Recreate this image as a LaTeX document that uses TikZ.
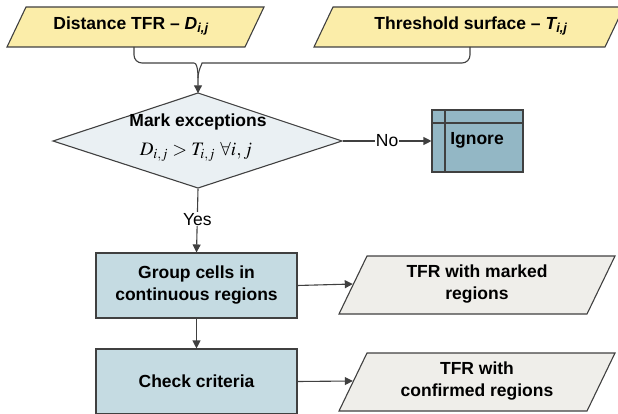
\documentclass[tikz,border=0pt]{standalone}
\usepackage{mathptmx}
\usepackage{fontspec}
\setmainfont{Liberation Sans}
\usetikzlibrary{arrows.meta}
\definecolor{lc}{HTML}{404040}
\definecolor{yel}{HTML}{FBEDA9}
\definecolor{dia}{HTML}{EAF0F3}
\definecolor{boxc}{HTML}{C5DBE2}
\definecolor{ign}{HTML}{93B7C5}
\definecolor{outc}{HTML}{EFEEEA}
\tikzset{
  shp/.style={draw=lc, line width=1.1pt, line join=miter},
  txt/.style={inner sep=0pt, font=\fontsize{17.5}{22}\selectfont\bfseries, align=center},
  proc/.style={shp, fill=boxc, minimum width=201pt, minimum height=65pt, inner sep=0pt, font=\fontsize{17.5}{22}\selectfont\bfseries, align=center},
  conn/.style={draw=lc, line width=1.1pt, -{Triangle[length=8pt,width=8pt]}},
  lbl/.style={fill=white, inner sep=1pt, font=\fontsize{17.5}{20}\selectfont}
}
\begin{document}
\begin{tikzpicture}[x=1pt,y=-1pt]
\useasboundingbox (0,0) rectangle (618,414);
% input parallelograms
\draw[shp, fill=yel] (26,7) -- (264,7) -- (245,47) -- (7,47) -- cycle;
\draw[shp, fill=yel] (333,7) -- (624,7) -- (605,47) -- (314,47) -- cycle;
\node[txt] (d) at (131,26) {Distance TFR -- \textit{D\textsubscript{i,j}}};
\node[txt] (t) at (471,26) {Threshold surface -- \textit{T\textsubscript{i,j}}};
\coordinate (db) at (134,47);
\coordinate (tb) at (470,47);
% diamond
\draw[shp, fill=dia] (198,93) -- (342,141) -- (198,188) -- (53,141) -- cycle;
\node[inner sep=0pt, minimum width=289pt, minimum height=95pt] (m) at (198,141) {};
\node[txt] (mt) at (198,122) {Mark exceptions};
\node[inner sep=0pt, font=\fontsize{19}{21}\selectfont] (mf) at (196,152) {$D_{i,j} >T_{i,j}\ \forall i, j$};
% merge connector
\draw[conn, rounded corners=8pt] (db) -- (134,63) -- (186,63) to[out=0,in=90] (m.north);
\draw[draw=lc, line width=1.1pt, rounded corners=8pt] (tb) -- (470,63) -- (210,63) to[out=180,in=90] (198,78);
% ignore box
\node[shp, fill=ign, minimum width=91pt, minimum height=62pt, inner sep=0pt] (ig) at (477.5,141) {};
\draw[draw=lc, line width=1.1pt] (445,110) -- (445,172);
\draw[draw=lc, line width=1.1pt] (432,123) -- (523,123);
\node[txt] at (477,140) {Ignore};
\draw[conn] (m.east) -- node[lbl] {No} (ig.west);
% process boxes
\node[proc] (g) at (196.5,285.5) {Group cells in\\continuous regions};
\node[proc] (c) at (196.5,381.5) {Check criteria};
\draw[conn] (m.south) -- node[lbl, pos=0.48] {Yes} (g.north);
\draw[conn] (g.south) -- (c.north);
% output parallelograms
\draw[shp, fill=outc] (367,256) -- (615,256) -- (587,314) -- (339,314) -- cycle;
\draw[shp, fill=outc] (367,353) -- (615,353) -- (587,411) -- (339,411) -- cycle;
\node[txt, minimum width=248pt, minimum height=58pt] (o1) at (477,284) {TFR with marked\\regions};
\node[txt, minimum width=248pt, minimum height=58pt] (o2) at (477,381) {TFR with\\confirmed regions};
\draw[conn] (g.east) -- (o1.west);
\draw[conn] (c.east) -- (o2.west);
\end{tikzpicture}
\end{document}
